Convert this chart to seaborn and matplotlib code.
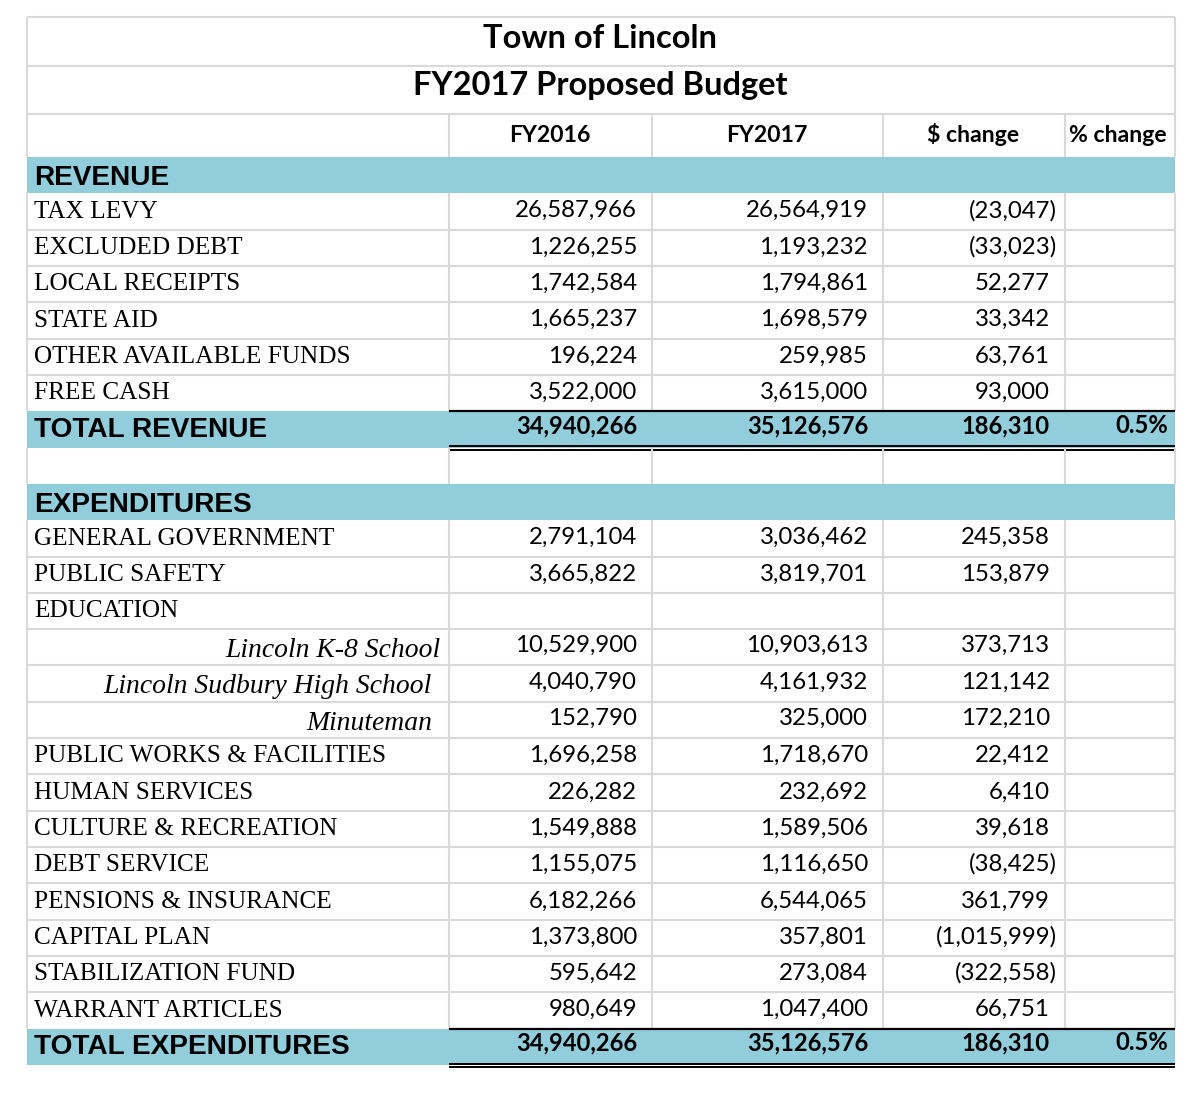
import matplotlib
matplotlib.use("Agg")
import matplotlib.pyplot as plt
import numpy as np
import seaborn as sns
from matplotlib.colors import ListedColormap
from matplotlib.transforms import blended_transform_factory
from matplotlib.textpath import TextPath
from matplotlib.font_manager import FontProperties

# ---------------- data ----------------
title_lines = ["Town of Lincoln", "FY2017 Proposed Budget"]
col_headers = ["FY2016", "FY2017", "$ change", "% change"]

rev_section = "REVENUE"
rev_labels = ["TAX LEVY", "EXCLUDED DEBT", "LOCAL RECEIPTS", "STATE AID",
              "OTHER AVAILABLE FUNDS", "FREE CASH"]
rev_fy2016 = [26587966, 1226255, 1742584, 1665237, 196224, 3522000]
rev_fy2017 = [26564919, 1193232, 1794861, 1698579, 259985, 3615000]
rev_change = [-23047, -33023, 52277, 33342, 63761, 93000]
rev_total_label = "TOTAL REVENUE"
rev_total = [34940266, 35126576, 186310]
rev_total_pct = "0.5%"

exp_section = "EXPENDITURES"
exp_labels = ["GENERAL GOVERNMENT", "PUBLIC SAFETY", "EDUCATION",
              "Lincoln K-8 School", "Lincoln Sudbury High School", "Minuteman",
              "PUBLIC WORKS & FACILITIES", "HUMAN SERVICES", "CULTURE & RECREATION",
              "DEBT SERVICE", "PENSIONS & INSURANCE", "CAPITAL PLAN",
              "STABILIZATION FUND", "WARRANT ARTICLES"]
exp_fy2016 = [2791104, 3665822, None, 10529900, 4040790, 152790, 1696258,
              226282, 1549888, 1155075, 6182266, 1373800, 595642, 980649]
exp_fy2017 = [3036462, 3819701, None, 10903613, 4161932, 325000, 1718670,
              232692, 1589506, 1116650, 6544065, 357801, 273084, 1047400]
exp_change = [245358, 153879, None, 373713, 121142, 172210, 22412,
              6410, 39618, -38425, 361799, -1015999, -322558, 66751]
exp_sub_items = ["Lincoln K-8 School", "Lincoln Sudbury High School", "Minuteman"]
exp_total_label = "TOTAL EXPENDITURES"
exp_total = [34940266, 35126576, 186310]
exp_total_pct = "0.5%"

# ---------------- build rows ----------------
rows = [("section", rev_section, None)]
for lab, a, b, c in zip(rev_labels, rev_fy2016, rev_fy2017, rev_change):
    rows.append(("item", lab, (a, b, c)))
rows.append(("total", rev_total_label, tuple(rev_total) + (rev_total_pct,)))
rows.append(("blank", "", None))
rows.append(("section", exp_section, None))
for lab, a, b, c in zip(exp_labels, exp_fy2016, exp_fy2017, exp_change):
    kind = "sub" if lab in exp_sub_items else "item"
    rows.append((kind, lab, (a, b, c)))
rows.append(("total", exp_total_label, tuple(exp_total) + (exp_total_pct,)))
n_rows = len(rows)

def fmt(v):
    if v is None:
        return ""
    if v < 0:
        return "({:,})".format(-v)
    return "{:,}".format(v)

# ---------------- figure ----------------
DPI = 100
W, H = 1200, 1105
sns.set_theme(style="white")
plt.rcParams["font.family"] = ["Lato", "DejaVu Sans"]
fig = plt.figure(figsize=(W / DPI, H / DPI), dpi=DPI)
fig.patch.set_facecolor("white")

BAND = "#92CDDC"
GRID = "#D9D9D9"
X0, X1 = 27, 1175
TOP_T, TOP_H = 157, 1065
COLS = [449, 652, 883, 1065]

band_matrix = np.array([[1.0 if r[0] in ("section", "total") else 0.0] for r in rows])
ax_h = fig.add_axes([X0 / W, 1 - TOP_H / H, (X1 - X0) / W, (TOP_H - TOP_T) / H])
sns.heatmap(band_matrix, ax=ax_h, cmap=ListedColormap(["#FFFFFF", BAND]),
            vmin=0, vmax=1, cbar=False, xticklabels=False, yticklabels=False,
            linewidths=0)
ax_h.set_axis_off()

ax_o = fig.add_axes([0, 0, 1, 1], zorder=3)
ax_o.set_xlim(0, W)
ax_o.set_ylim(H, 0)
ax_o.axis("off")
ax_o.patch.set_alpha(0)
tr = blended_transform_factory(ax_o.transData, ax_h.transData)

def fit_size(text, target_px, family, weight="normal", style="normal"):
    fp = FontProperties(family=family, weight=weight, style=style, size=100)
    w = TextPath((0, 0), text, prop=fp).get_extents().width
    return 100 * target_px / (w * DPI / 72)

SANS = "Lato"
SERIF = "Liberation Serif"
HEAD = "Liberation Sans"
fs_title = fit_size("FY2017 Proposed Budget", 372, SANS, "bold")
fs_head = fit_size("% change", 96, SANS, "bold")
fs_label = fit_size("PENSIONS & INSURANCE", 295, SERIF)
fs_sub = fit_size("Lincoln Sudbury High School", 328, SERIF, style="italic")
fs_sec = fit_size("TOTAL EXPENDITURES", 315, HEAD, "bold")
fs_num = fit_size("26,587,966", 120, SANS)
fs_tot = fit_size("34,940,266", 120, SANS, "bold")

# ---------------- grid lines (title area) ----------------
def hl(y, xa, xb, color=GRID, lw=1.5, transform=None):
    ax_o.plot([xa, xb], [y, y], color=color, lw=lw, solid_capstyle="butt",
              transform=transform or ax_o.transData, clip_on=False, zorder=4)

def vl(x, ya, yb, color=GRID, lw=1.5, transform=None):
    ax_o.plot([x, x], [ya, yb], color=color, lw=lw, solid_capstyle="butt",
              transform=transform or ax_o.transData, clip_on=False, zorder=4)

for y in (17, 66, 114):
    hl(y, X0, X1)
vl(X0, 17, TOP_T)
vl(X1, 17, TOP_T)
for x in COLS:
    vl(x, 114, TOP_T)

ax_o.text(600, 47.5, title_lines[0], ha="center", va="baseline",
          fontsize=fs_title, fontweight="bold", family=SANS, color="black")
ax_o.text(600, 95, title_lines[1], ha="center", va="baseline",
          fontsize=fs_title, fontweight="bold", family=SANS, color="black")
head_centers = [550, 767, 973, 1118]
for cx, s in zip(head_centers, col_headers):
    ax_o.text(cx, 142.5, s, ha="center", va="baseline", fontsize=fs_head,
              fontweight="bold", family=SANS, color="black")

# ---------------- grid lines (body) ----------------
plain = ("item", "sub", "blank")
for i, (kind, lab, vals) in enumerate(rows):
    if kind in plain:
        for x in [X0] + COLS + [X1]:
            vl(x, i, i + 1, transform=tr)
        if i + 1 < n_rows and rows[i + 1][0] in plain:
            hl(i + 1, X0, X1, transform=tr)
    if kind == "total":
        hl(i, COLS[0], X1, color="black", lw=1.6, transform=tr)
        hl(i + 1 - 0.04, COLS[0], X1, color="black", lw=1.4, transform=tr)
        hl(i + 1 + 0.06, COLS[0], X1, color="black", lw=1.4, transform=tr)

# ---------------- body text ----------------
num_right = [637, 868]
for i, (kind, lab, vals) in enumerate(rows):
    if kind == "section":
        ax_o.text(34, i + 0.77, lab, transform=tr, ha="left", va="baseline",
                  fontsize=fs_sec, fontweight="bold", family=HEAD, color="black")
    elif kind == "total":
        ax_o.text(34, i + 0.70, lab, transform=tr, ha="left", va="baseline",
                  fontsize=fs_sec, fontweight="bold", family=HEAD, color="black")
        for x, v in zip(num_right, vals[:2]):
            ax_o.text(x, i + 0.60, fmt(v), transform=tr, ha="right", va="baseline",
                      fontsize=fs_tot, fontweight="bold", family=SANS, color="black")
        ax_o.text(1050, i + 0.60, fmt(vals[2]), transform=tr, ha="right",
                  va="baseline", fontsize=fs_tot, fontweight="bold", family=SANS,
                  color="black")
        ax_o.text(1168, i + 0.60, vals[3], transform=tr, ha="right",
                  va="baseline", fontsize=fs_tot, fontweight="bold", family=SANS,
                  color="black")
    elif kind in ("item", "sub"):
        if kind == "item":
            ax_o.text(34, i + 0.67, lab, transform=tr, ha="left", va="baseline",
                      fontsize=fs_label, family=SERIF, color="black")
            yn = i + 0.66
        else:
            xr = 440 if lab == exp_sub_items[0] else 432
            ax_o.text(xr, i + 0.77, lab, transform=tr, ha="right", va="baseline",
                      fontsize=fs_sub, family=SERIF, style="italic", color="black")
            yn = i + 0.63
        a, b, c = vals
        for x, v in zip(num_right, (a, b)):
            ax_o.text(x, yn, fmt(v), transform=tr, ha="right", va="baseline",
                      fontsize=fs_num, family=SANS, color="black")
        if c is not None:
            xr = 1057 if c < 0 else 1050
            ax_o.text(xr, yn, fmt(c), transform=tr, ha="right", va="baseline",
                      fontsize=fs_num, family=SANS, color="black")

fig.savefig("out.png", dpi=DPI, facecolor="white")
